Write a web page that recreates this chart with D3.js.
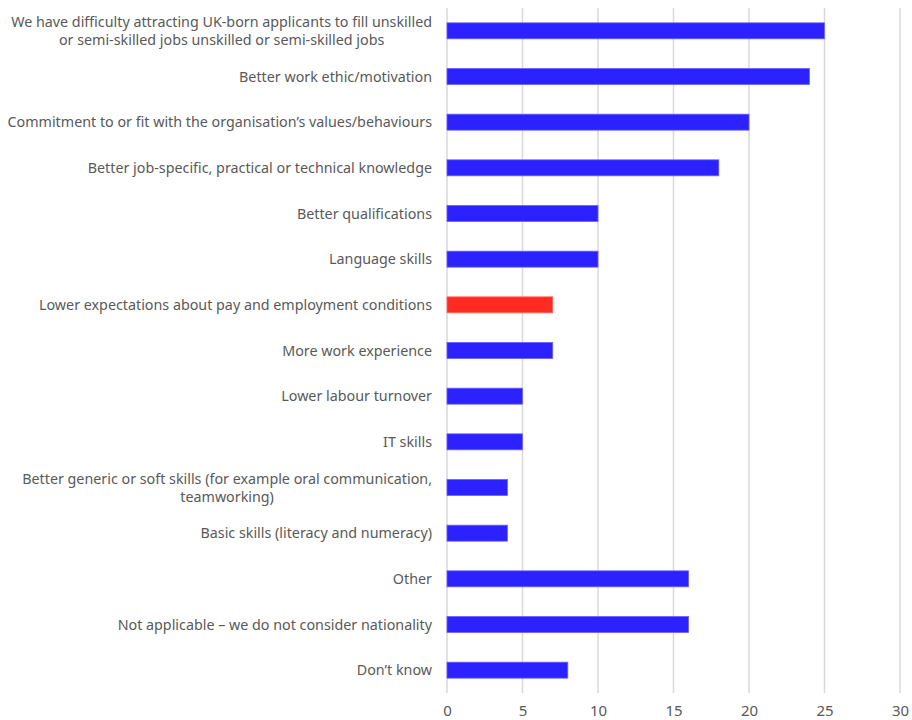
<!DOCTYPE html>
<html>
<head>
<meta charset="utf-8">
<script src="https://cdn.jsdelivr.net/npm/d3@7"></script>
<style>
  body { margin: 0; background: #fff; }
  text { font-family: "Noto Sans", sans-serif; fill: #595959; }
</style>
</head>
<body>
<div id="my_dataviz"></div>
<script>
// chart size
const width = 912
const height = 720

// data
const categories = [
    ["We have difficulty attracting UK-born applicants to fill unskilled", "or semi-skilled jobs unskilled or semi-skilled jobs"],
    ["Better work ethic/motivation"],
    ["Commitment to or fit with the organisation\u2019s values/behaviours"],
    ["Better job-specific, practical or technical knowledge"],
    ["Better qualifications"],
    ["Language skills"],
    ["Lower expectations about pay and employment conditions"],
    ["More work experience"],
    ["Lower labour turnover"],
    ["IT skills"],
    ["Better generic or soft skills (for example oral communication,", "teamworking)"],
    ["Basic skills (literacy and numeracy)"],
    ["Other"],
    ["Not applicable \u2013 we do not consider nationality"],
    ["Don\u2019t know"]
]
const values = [25, 24, 20, 18, 10, 10, 7, 7, 5, 5, 4, 4, 16, 16, 8]
const highlight = [false, false, false, false, false, false, true, false, false, false, false, false, false, false, false]
const tickValues = [0, 5, 10, 15, 20, 25, 30]

const rows = categories.map((c, i) => ({ id: i, lines: c, value: values[i], hl: highlight[i] }))

const svg = d3.select("#my_dataviz")
  .append("svg")
    .attr("width", width)
    .attr("height", height)

const x = d3.scaleLinear().domain([0, 30]).range([447, 900])
const y = d3.scaleBand().domain(rows.map(d => d.id)).range([8, 693]).paddingInner(0.65).paddingOuter(0.325)

// gridlines
svg.append("g")
  .selectAll("line")
  .data(tickValues)
  .join("line")
    .attr("x1", d => x(d)).attr("x2", d => x(d))
    .attr("y1", 8).attr("y2", 693)
    .attr("stroke", "#d9d9d9")
    .attr("stroke-width", 1.5)

// x axis labels
const xAxis = svg.append("g")
    .attr("transform", "translate(0,693)")
    .call(d3.axisBottom(x).tickValues(tickValues).tickSize(0).tickPadding(12))
xAxis.select(".domain").remove()
xAxis.selectAll("text").style("font-size", "15px").style("font-family", "\"Noto Sans\", sans-serif").attr("fill", "#595959")

// bars
svg.append("g")
  .selectAll("rect")
  .data(rows)
  .join("rect")
    .attr("x", x(0))
    .attr("y", d => y(d.id))
    .attr("width", d => x(d.value) - x(0))
    .attr("height", y.bandwidth())
    .attr("fill", d => d.hl ? "#ff2b22" : "#2b22ff")
    .attr("stroke", d => d.hl ? "#ff6a60" : "#6a62ff")
    .attr("stroke-width", 0.8)

// category labels, right aligned as a block, lines centred to each other
const labelRight = 432
const lineH = 18
const labels = svg.append("g")
labels.selectAll("g")
  .data(rows)
  .join("g")
  .each(function(d) {
    const g = d3.select(this)
    const cy = y(d.id) + y.bandwidth() / 2
    const n = d.lines.length
    const texts = d.lines.map((ln, k) => g.append("text")
          .style("font-size", "14.3px")
          .attr("y", cy + (k - (n - 1) / 2) * lineH)
          .attr("dy", "0.35em")
          .attr("text-anchor", "middle")
          .text(ln))
    const w = d3.max(texts, t => t.node().getComputedTextLength())
    texts.forEach(t => t.attr("x", labelRight - w / 2))
  })
</script>
</body>
</html>
